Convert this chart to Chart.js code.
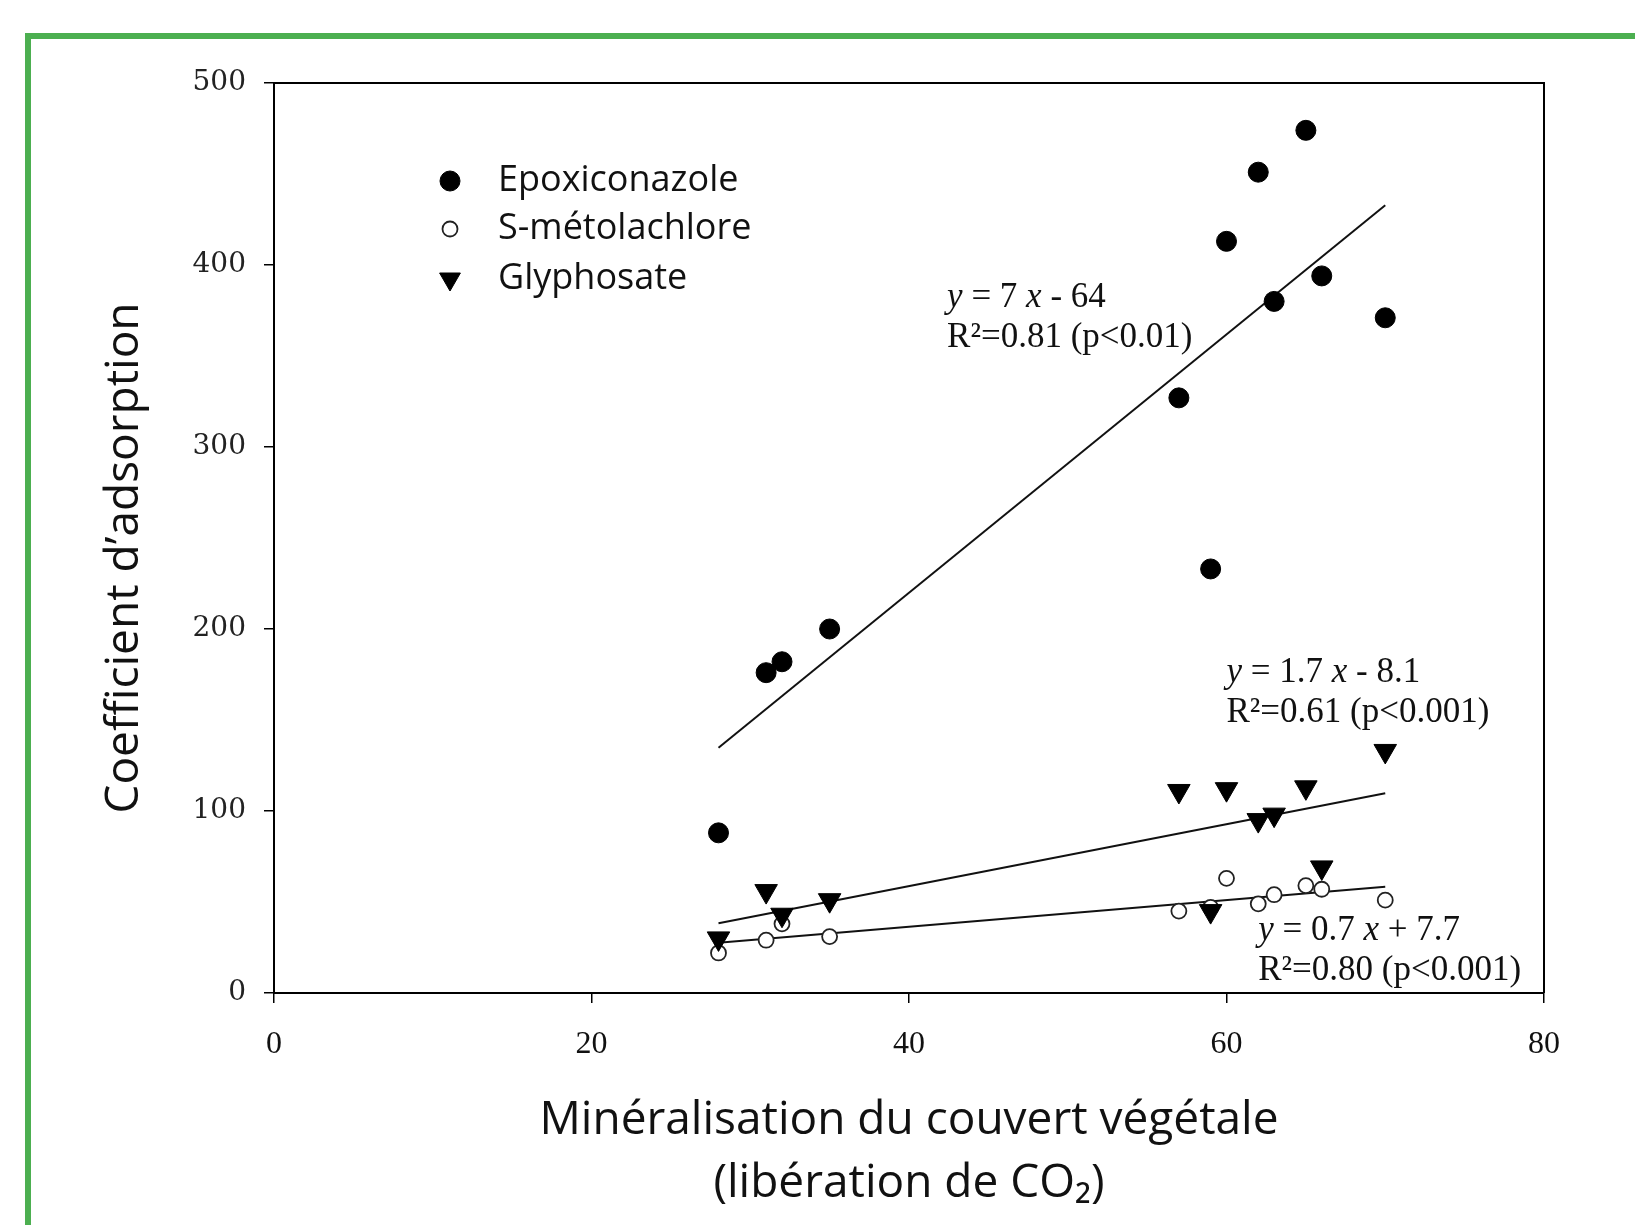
<!DOCTYPE html>
<html lang="fr">
<head>
<meta charset="utf-8">
<title>Coefficient d'adsorption</title>
<script src="https://cdn.jsdelivr.net/npm/chart.js@4.4.1/dist/chart.umd.min.js"></script>
<style>
    html, body { margin: 0; padding: 0; background: #fff; }
    body { width: 1635px; height: 1225px; position: relative; overflow: hidden; }
    #chart-wrap { position: absolute; left: 0; top: 0; width: 1635px; height: 1225px; }
    #frame {
        position: absolute; left: 25px; top: 33px; width: 1700px; height: 1300px;
        border: 6px solid #4caf50; box-sizing: border-box; pointer-events: none;
    }
</style>
</head>
<body>
<div id="chart-wrap"><canvas id="adsorptionChart" width="1635" height="1225"></canvas></div>
<div id="frame"></div>
<script>
// Minéralisation (x) shared by the three series
const mineralisation = [28, 31, 32, 35, 57, 59, 60, 62, 63, 65, 66, 70];
const epoxiconazole = [88, 176, 182, 200, 327, 233, 413, 451, 380, 474, 394, 371];
const sMetolachlore = [22, 29, 38, 31, 45, 47, 63, 49, 54, 59, 57, 51];
const glyphosate = [30, 56, 43, 51, 111, 45, 112, 95, 98, 113, 69, 133];

const seriesNames = ['Epoxiconazole', 'S-métolachlore', 'Glyphosate'];
const xTicks = [0, 20, 40, 60, 80];
const yTicks = [0, 100, 200, 300, 400, 500];

// equation labels: [text, italic] runs
const equationRuns = [
    [['y', true], [' = 7 ', false], ['x', true], [' - 64', false]],
    [['y', true], [' = 0.7 ', false], ['x', true], [' + 7.7', false]],
    [['y', true], [' = 1.7 ', false], ['x', true], [' - 8.1', false]]
];
const r2Labels = ['R²=0.81 (p<0.01)', 'R²=0.80 (p<0.001)', 'R²=0.61 (p<0.001)'];
// where each equation block sits (data units, left edge / first line)
const labelAnchors = [[42.4, 382], [62.0, 34], [60.0, 176]];

function toPoints(xs, ys) {
    return xs.map(function(x, i) { return { x: x, y: ys[i] }; });
}

// least squares line over the measured x range
function fitLine(xs, ys) {
    const n = xs.length;
    let mx = 0, my = 0;
    for (let i = 0; i < n; i++) { mx += xs[i]; my += ys[i]; }
    mx /= n; my /= n;
    let sxy = 0, sxx = 0;
    for (let i = 0; i < n; i++) {
        sxy += (xs[i] - mx) * (ys[i] - my);
        sxx += (xs[i] - mx) * (xs[i] - mx);
    }
    const b = sxy / sxx;
    const a = my - b * mx;
    const lo = Math.min.apply(null, xs);
    const hi = Math.max.apply(null, xs);
    return [{ x: lo, y: a + b * lo }, { x: hi, y: a + b * hi }];
}

const markerStyles = [
    { pointStyle: 'circle', radius: 10, rotation: 0, backgroundColor: '#000', borderColor: '#000', borderWidth: 1 },
    { pointStyle: 'circle', radius: 7.5, rotation: 0, backgroundColor: '#fff', borderColor: '#222', borderWidth: 1.8 },
    { pointStyle: 'triangle', radius: 13, rotation: 180, backgroundColor: '#000', borderColor: '#000', borderWidth: 1 }
];

const seriesValues = [epoxiconazole, sMetolachlore, glyphosate];

const datasets = [];
seriesValues.forEach(function(vals, k) {
    const m = markerStyles[k];
    datasets.push({
        label: seriesNames[k],
        data: toPoints(mineralisation, vals),
        pointStyle: m.pointStyle,
        pointRadius: m.radius,
        pointRotation: m.rotation,
        pointBackgroundColor: m.backgroundColor,
        pointBorderColor: m.borderColor,
        pointBorderWidth: m.borderWidth,
        showLine: false,
        order: k === 2 ? 0 : k + 1
    });
});
seriesValues.forEach(function(vals, k) {
    datasets.push({
        type: 'line',
        label: 'fit ' + seriesNames[k],
        data: fitLine(mineralisation, vals),
        borderColor: '#111',
        borderWidth: 2,
        pointRadius: 0,
        fill: false,
        order: 5
    });
});

// box, legend, equations and y title
const decorPlugin = {
    id: 'decor',
    afterDatasetsDraw: function(chart) {
        const ctx = chart.ctx;
        const area = chart.chartArea;
        const xs = chart.scales.x;
        const ys = chart.scales.y;
        ctx.save();

        // top and right frame of the plot box
        ctx.strokeStyle = '#000';
        ctx.lineWidth = 2;
        ctx.beginPath();
        ctx.moveTo(area.left, area.top);
        ctx.lineTo(area.right, area.top);
        ctx.lineTo(area.right, area.bottom);
        ctx.stroke();

        // legend
        ctx.textBaseline = 'middle';
        ctx.textAlign = 'left';
        ctx.font = '36px "Open Sans"';
        const rows = [98, 146, 196];
        seriesNames.forEach(function(name, k) {
            const m = markerStyles[k];
            const cy = area.top + rows[k];
            ctx.fillStyle = m.backgroundColor;
            ctx.strokeStyle = m.borderColor;
            ctx.lineWidth = m.borderWidth;
            Chart.helpers.drawPoint(ctx, {
                pointStyle: m.pointStyle, radius: m.radius - (k === 2 ? 1 : 0),
                rotation: m.rotation, borderWidth: m.borderWidth
            }, area.left + 176, cy);
            ctx.fillStyle = '#111';
            ctx.fillText(name, area.left + 224, cy);
        });

        // regression equations
        ctx.fillStyle = '#111';
        equationRuns.forEach(function(runs, k) {
            let px = xs.getPixelForValue(labelAnchors[k][0]);
            const py = ys.getPixelForValue(labelAnchors[k][1]);
            runs.forEach(function(run) {
                ctx.font = (run[1] ? 'italic ' : '') + '35px "Liberation Serif"';
                ctx.fillText(run[0], px, py);
                px += ctx.measureText(run[0]).width;
            });
            ctx.font = '35px "Liberation Serif"';
            ctx.fillText(r2Labels[k], xs.getPixelForValue(labelAnchors[k][0]), py + 40);
        });

        // y axis title
        ctx.font = '46px "Open Sans"';
        ctx.fillStyle = '#111';
        ctx.textAlign = 'center';
        ctx.translate(125, 558);
        ctx.rotate(-Math.PI / 2);
        ctx.fillText('Coefficient d\u2019adsorption', 0, 0);
        ctx.restore();
    }
};

const chartCanvas = document.getElementById('adsorptionChart');
new Chart(chartCanvas, {
    type: 'scatter',
    data: { datasets: datasets },
    options: {
        responsive: false,
        animation: false,
        devicePixelRatio: 1,
        layout: { padding: { top: 83, right: 91, left: 0, bottom: 0 } },
        plugins: {
            legend: { display: false },
            tooltip: { enabled: false }
        },
        scales: {
            x: {
                type: 'linear',
                min: xTicks[0],
                max: xTicks[xTicks.length - 1],
                afterBuildTicks: function(scale) {
                    scale.ticks = xTicks.map(function(v) { return { value: v }; });
                },
                afterFit: function(scale) { scale.height = 232; },
                grid: { drawOnChartArea: false, drawTicks: true, tickLength: 10, color: '#000', lineWidth: 1.5 },
                border: { display: true, color: '#000', width: 2 },
                ticks: {
                    color: '#111',
                    padding: 22,
                    font: { family: '"Liberation Serif"', size: 32 }
                },
                title: {
                    display: true,
                    text: ['Minéralisation du couvert végétale', '(libération de CO\u2082)'],
                    color: '#111',
                    font: { family: '"Open Sans"', size: 46, lineHeight: 1.36 },
                    padding: { top: 0, bottom: 10 }
                }
            },
            y: {
                type: 'linear',
                min: yTicks[0],
                max: yTicks[yTicks.length - 1],
                afterBuildTicks: function(scale) {
                    scale.ticks = yTicks.map(function(v) { return { value: v }; });
                },
                afterFit: function(scale) { scale.width = 274; },
                grid: { drawOnChartArea: false, drawTicks: true, tickLength: 10, color: '#000', lineWidth: 1.5 },
                border: { display: true, color: '#000', width: 2 },
                ticks: {
                    color: '#222',
                    padding: 18,
                    font: { family: '"DejaVu Serif"', size: 28 }
                }
            }
        }
    },
    plugins: [decorPlugin]
});
</script>
</body>
</html>
